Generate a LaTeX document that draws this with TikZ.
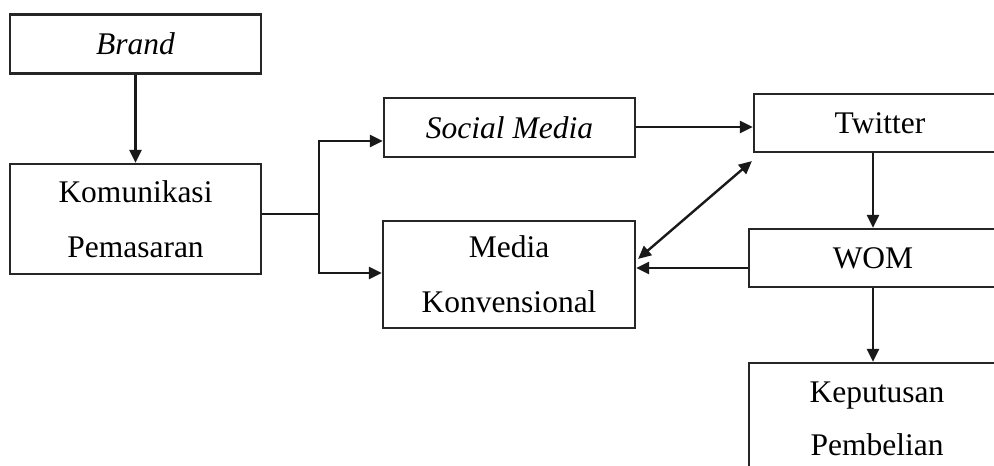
\documentclass[tikz,border=0pt]{standalone}
\usepackage{fontspec}
\setmainfont{Liberation Serif}
\usetikzlibrary{arrows.meta,calc}
\begin{document}
\begin{tikzpicture}[x=1pt,y=1pt,
  box/.style={draw=black!85,line width=2.2pt,inner sep=0pt,align=center,
    font=\fontsize{31.5}{55}\selectfont},
  txt/.style={inner sep=0pt,align=center,font=\fontsize{31.5}{53}\selectfont},
  conn/.style={draw=black!90,line width=2.4pt,-{Triangle[length=13pt,width=12pt]}},
  plain/.style={draw=black!90,line width=2.4pt}]
\useasboundingbox (0,0) rectangle (994,-466);
\begin{scope}
\clip (0,0) rectangle (994,-466);
\node[box,minimum width=251pt,minimum height=59pt] (brand) at (135.5,-44) {\textit{Brand}};
\node[box,minimum width=251pt,minimum height=110pt] (kom) at (135.5,-219) {Komunikasi\\Pemasaran};
\node[box,minimum width=251pt,minimum height=59pt] (soc) at (509.5,-127.5) {\textit{Social Media}};
\node[box,minimum width=252pt,minimum height=107pt] (mk) at (509,-274.5) {Media\\Konvensional};
\node[box,minimum width=252pt,minimum height=58pt] (tw) at (880,-123) {Twitter};
\node[box,minimum width=248pt,minimum height=58pt] (wom) at (873,-258) {WOM};
\node[box,minimum width=256pt,minimum height=146pt] (kep) at (877,-436) {};
\node[txt] (kept) at (877,-419) {Keputusan\\Pembelian};
\coordinate (j) at (319,-214);
\coordinate (jt) at (319,-141);
\coordinate (jb) at (319,-273);
\coordinate (sa) at ($(soc.east)+(0,0.5)$);
\coordinate (wa) at ($(wom.west)+(0,-10)$);
\coordinate (da) at ($(mk.north east)+(2,-39)$);
\coordinate (db) at ($(tw.south west)+(-1,-8)$);
\draw[conn] (brand.south) -- (kom.north);
\draw[plain] ($(kom.east)+(0,5)$) -- (j);
\draw[conn] (j) -- (jt) -- (jt -| soc.west);
\draw[conn] (j) -- (jb) -- (jb -| mk.west);
\draw[conn] (sa) -- (sa -| tw.west);
\draw[conn,{Triangle[length=13pt,width=12pt]}-{Triangle[length=13pt,width=12pt]}] (da) -- (db);
\draw[conn] (wa) -- (wa -| mk.east);
\draw[conn] (tw.south -| wom.north) -- (wom.north);
\draw[conn] (wom.south) -- (wom.south |- kep.north);
\end{scope}
\end{tikzpicture}
\end{document}
